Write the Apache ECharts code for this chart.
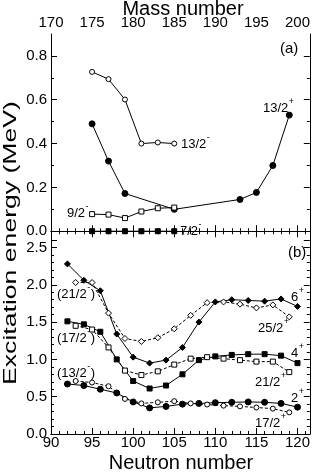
<!DOCTYPE html>
<html><head><meta charset="utf-8">
<script src="https://cdn.jsdelivr.net/npm/echarts@6/dist/echarts.min.js"></script>
<style>html,body{margin:0;padding:0;background:#fff}#c{width:313px;height:473px}</style>
</head><body><div id="c"></div>
<script>
// ---- Panel (a): odd-A, x = mass number ----
const mass72 = [175, 177, 179, 181, 183, 185];
const e72 = [0, 0, 0, 0, 0, 0];
const mass92 = [175, 177, 179, 181, 183, 185];
const e92 = [0.078, 0.076, 0.06, 0.09, 0.105, 0.108];
const mass132m = [175, 177, 179, 181, 183, 185];
const e132m = [0.727, 0.694, 0.601, 0.40, 0.405, 0.40];
const mass132p = [175, 177, 179, 185, 193, 195, 197, 199];
const e132p = [0.49, 0.32, 0.172, 0.10, 0.145, 0.177, 0.30, 0.53];
// ---- Panel (b): x = neutron number ----
const nEven = [92, 94, 96, 98, 100, 102, 104, 106, 108, 110, 112, 114, 116, 118, 120];
const e2 = [0.67, 0.65, 0.60, 0.55, 0.43, 0.35, 0.37, 0.40, 0.41, 0.42, 0.425, 0.43, 0.425, 0.41, 0.36];
const e4 = [1.51, 1.47, 1.37, 1.00, 0.71, 0.61, 0.65, 0.80, 0.99, 1.04, 1.06, 1.07, 1.07, 1.05, 0.95];
const e6 = [2.28, 2.06, 1.92, 1.34, 1.03, 0.95, 0.99, 1.16, 1.50, 1.77, 1.80, 1.79, 1.78, 1.81, 1.71];
const nOdd = [93, 95, 97, 99, 101, 103, 105, 107, 109, 111, 113, 115, 117, 119];
const e172 = [0.71, 0.69, 0.64, 0.47, 0.41, 0.425, 0.44, 0.41, 0.395, 0.38, 0.37, 0.355, 0.34, 0.29];
const e212 = [1.45, 1.40, 1.16, 0.85, 0.79, 0.84, 0.93, 1.01, 1.03, 1.01, 0.99, 0.97, 0.97, 0.83];
const e252 = [2.03, 2.03, 1.62, 1.28, 1.24, 1.29, 1.41, 1.59, 1.76, 1.77, 1.74, 1.69, 1.73, 1.57];
// tick labels
const topYTicks = [0, 0.2, 0.4, 0.6, 0.8];
const topYMinor = [0.1, 0.3, 0.5, 0.7];

const FONT = '"Liberation Sans", Arial, sans-serif';
const zip = (xs, ys) => xs.map((x, i) => [x, ys[i]]);

function ser(xs, ys, xi, yi, symbol, filled, dashed, size) {
  return {
    type: 'line', xAxisIndex: xi, yAxisIndex: yi, data: zip(xs, ys),
    symbol: symbol, symbolSize: size, showSymbol: true,
    lineStyle: { color: '#000', width: 1, type: dashed ? [3, 2] : 'solid' },
    itemStyle: { color: filled ? '#000' : '#fff', borderColor: '#000', borderWidth: 1 },
    z: 3, silent: true
  };
}

const mctx = document.createElement('canvas').getContext('2d');
function tw(t, px) { mctx.font = px + 'px ' + FONT; return mctx.measureText(t).width; }
function lbl(x, y, main, sup, tail, size) {
  size = size || 13;
  const out = [];
  out.push({ type: 'text', x: x, y: y, style: { text: main, fill: '#000', fontSize: size, fontFamily: FONT, textAlign: 'left', textVerticalAlign: 'middle' } });
  let cx = x + tw(main, size);
  if (sup) {
    out.push({ type: 'text', x: cx + 0.5, y: y - 6, style: { text: sup, fill: '#000', fontSize: 9, fontFamily: FONT, textAlign: 'left', textVerticalAlign: 'middle' } });
    cx += tw(sup, 9) + 1;
  }
  if (tail) {
    out.push({ type: 'text', x: cx, y: y, style: { text: tail, fill: '#000', fontSize: size, fontFamily: FONT, textAlign: 'left', textVerticalAlign: 'middle' } });
  }
  return out;
}

const axisLine = { show: true, lineStyle: { color: '#000', width: 1 } };
const lab = { fontSize: 15, fontFamily: FONT, color: '#000' };

const option = {
  animation: false,
  backgroundColor: '#fff',
  grid: [
    { left: 51, top: 34, width: 259, height: 206 },
    { left: 51, top: 240, width: 259, height: 194 }
  ],
  xAxis: [
    { gridIndex: 0, type: 'value', position: 'top', min: 170, max: 201.5, interval: 5,
      axisLine: axisLine, axisTick: { inside: true, length: 6, lineStyle: { color: '#000' } },
      minorTick: { show: true, splitNumber: 5, length: 3, lineStyle: { color: '#000' } },
      axisLabel: Object.assign({ margin: 4, showMaxLabel: false }, lab), splitLine: { show: false } },
    { gridIndex: 0, type: 'value', position: 'bottom', min: 170, max: 201.5, interval: 5,
      axisLine: axisLine, axisTick: { inside: true, length: 6, lineStyle: { color: '#000' } },
      minorTick: { show: true, splitNumber: 5, length: 3, lineStyle: { color: '#000' } },
      axisLabel: { show: false }, splitLine: { show: false } },
    { gridIndex: 1, type: 'value', position: 'bottom', min: 90, max: 121.5, interval: 5,
      axisLine: axisLine, axisTick: { inside: true, length: 6, lineStyle: { color: '#000' } },
      minorTick: { show: true, splitNumber: 5, length: 3, lineStyle: { color: '#000' } },
      axisLabel: Object.assign({ margin: 1, showMaxLabel: false }, lab), splitLine: { show: false } },
    { gridIndex: 1, type: 'value', position: 'top', min: 90, max: 121.5, interval: 5,
      axisLine: axisLine, axisTick: { show: false }, axisLabel: { show: false }, splitLine: { show: false } }
  ],
  yAxis: [
    { gridIndex: 0, type: 'value', position: 'left', min: -0.04, max: 0.9,
      axisLine: axisLine,
      axisTick: { inside: true, length: 6, customValues: topYTicks, lineStyle: { color: '#000' } },
      axisLabel: Object.assign({ margin: 4, customValues: topYTicks, formatter: v => v.toFixed(1) }, lab),
      splitLine: { show: false } },
    { gridIndex: 0, type: 'value', position: 'left', min: -0.04, max: 0.9,
      axisLine: { show: false },
      axisTick: { inside: true, length: 3, customValues: topYMinor, lineStyle: { color: '#000' } },
      axisLabel: { show: false }, splitLine: { show: false } },
    { gridIndex: 0, type: 'value', position: 'right', min: -0.04, max: 0.9,
      axisLine: axisLine,
      axisTick: { inside: true, length: 6, customValues: topYTicks, lineStyle: { color: '#000' } },
      axisLabel: { show: false }, splitLine: { show: false } },
    { gridIndex: 0, type: 'value', position: 'right', min: -0.04, max: 0.9,
      axisLine: { show: false },
      axisTick: { inside: true, length: 3, customValues: topYMinor, lineStyle: { color: '#000' } },
      axisLabel: { show: false }, splitLine: { show: false } },
    { gridIndex: 1, type: 'value', position: 'left', min: 0, max: 2.6, interval: 0.5,
      axisLine: axisLine, axisTick: { inside: true, length: 6, lineStyle: { color: '#000' } },
      minorTick: { show: true, splitNumber: 5, length: 3, lineStyle: { color: '#000' } },
      axisLabel: Object.assign({ margin: 4, showMaxLabel: false, formatter: v => v.toFixed(1) }, lab),
      splitLine: { show: false } },
    { gridIndex: 1, type: 'value', position: 'right', min: 0, max: 2.6, interval: 0.5,
      axisLine: axisLine, axisTick: { inside: true, length: 6, lineStyle: { color: '#000' } },
      minorTick: { show: true, splitNumber: 5, length: 3, lineStyle: { color: '#000' } },
      axisLabel: { show: false }, splitLine: { show: false } }
  ],
  series: [
    ser(mass132m, e132m, 0, 0, 'circle', false, false, 5),
    ser(mass132p, e132p, 0, 0, 'circle', true, false, 6),
    ser(mass92, e92, 0, 0, 'rect', false, false, 5),
    ser(mass72, e72, 0, 0, 'rect', true, false, 5),
    ser(nEven, e6, 2, 4, 'diamond', true, false, 6),
    ser(nOdd, e252, 2, 4, 'diamond', false, true, 6),
    ser(nEven, e4, 2, 4, 'rect', true, false, 5),
    ser(nOdd, e212, 2, 4, 'rect', false, true, 5),
    ser(nEven, e2, 2, 4, 'circle', true, false, 6),
    ser(nOdd, e172, 2, 4, 'circle', false, true, 5)
  ],
  graphic: [].concat(
    [{ type: 'text', x: 183, y: 9, style: { text: 'Mass number', fontSize: 20, fontFamily: FONT, fill: '#000', textAlign: 'center', textVerticalAlign: 'middle' } },
     { type: 'text', x: 181, y: 463, style: { text: 'Neutron number', fontSize: 20, fontFamily: FONT, fill: '#000', textAlign: 'center', textVerticalAlign: 'middle' } },
     { type: 'text', x: 11, y: 243, rotation: Math.PI / 2, scaleX: 1.4, style: { text: 'Excitation energy (MeV)', fontSize: 19, fontFamily: FONT, fill: '#000', textAlign: 'center', textVerticalAlign: 'middle' } },
     { type: 'text', x: 280, y: 49, style: { text: '(a)', fontSize: 15, fontFamily: FONT, fill: '#000', textAlign: 'left', textVerticalAlign: 'middle' } },
     { type: 'text', x: 288, y: 253, style: { text: '(b)', fontSize: 15, fontFamily: FONT, fill: '#000', textAlign: 'left', textVerticalAlign: 'middle' } }],
    lbl(181, 144, '13/2', '-'),
    lbl(263, 108, '13/2', '+'),
    lbl(67, 213, '9/2', '-'),
    lbl(180, 231, '7/2', '-'),
    lbl(291, 297, '6', '+'),
    lbl(258, 328, '25/2', '+'),
    lbl(291, 353, '4', '+'),
    lbl(255, 382, '21/2', '+'),
    lbl(291, 398, '2', '+'),
    lbl(255, 423, '17/2', '+'),
    lbl(57, 294, '(21/2', '-', ')'),
    lbl(57, 338, '(17/2', '-', ')'),
    lbl(57, 373, '(13/2', '-', ')')
  )
};
const chart = echarts.init(document.getElementById('c'), null, { renderer: 'canvas' });
chart.setOption(option);
</script>
</body></html>
